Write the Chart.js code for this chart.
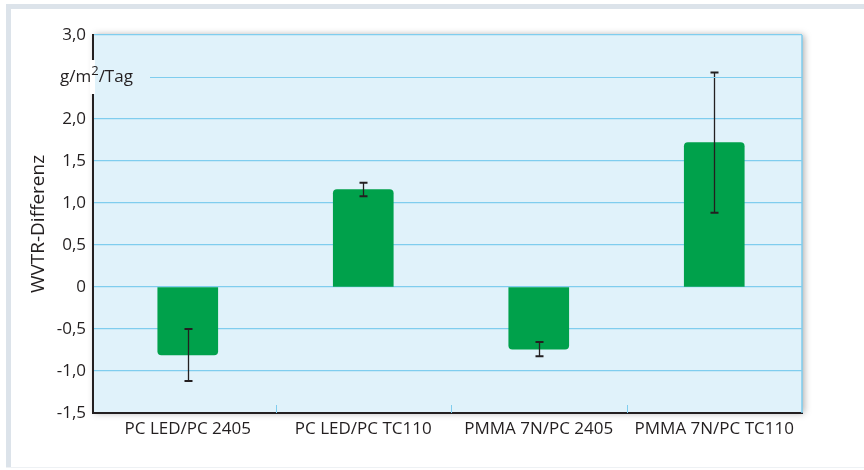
<!DOCTYPE html>
<html>
<head>
<meta charset="utf-8">
<script src="https://cdn.jsdelivr.net/npm/chart.js@4"></script>
<style>
  html, body { margin: 0; padding: 0; background: #fff; }
  #wrap { width: 864px; height: 470px; }
</style>
</head>
<body>
<div id="wrap"><canvas id="bar"></canvas></div>
<script>
const categories = ["PC LED/PC 2405", "PC LED/PC TC110", "PMMA 7N/PC 2405", "PMMA 7N/PC TC110"];
const wvtrDiff = [-0.81, 1.16, -0.74, 1.72];
const wvtrErr = [0.31, 0.08, 0.085, 0.835];
const yTickLabels = ["-1,5", "-1,0", "-0,5", "0", "0,5", "1,0", "1,5", "2,0", "", "3,0"];
const unitValue = 2.5; // the 2,5 tick is replaced by the unit label

const FONT = "'Open Sans', sans-serif";
const INK = "#231f20";
const GRID = "#7fcdee";

const decor = {
  id: "decor",
  beforeDraw(chart) {
    const c = chart.ctx, a = chart.chartArea;
    c.save();
    // page frame
    c.fillStyle = "#dce3ea";
    c.fillRect(6, 4, chart.width - 6, 5);
    c.fillRect(6, 4, 5, chart.height - 6);
    c.fillStyle = "#eef1f4";
    c.fillRect(6, chart.height - 3, chart.width - 6, 1);
    // plot background with shadow
    c.shadowColor = "rgba(0,0,0,0.35)";
    c.shadowBlur = 7;
    c.shadowOffsetX = 2;
    c.shadowOffsetY = 0;
    c.fillStyle = "#e0f2fa";
    c.fillRect(a.left, a.top, a.right - a.left, a.bottom - a.top);
    c.restore();
  },
  afterDraw(chart) {
    const c = chart.ctx, a = chart.chartArea;
    const x = chart.scales.x, y = chart.scales.y;
    c.save();
    // right border
    c.strokeStyle = GRID;
    c.lineWidth = 1.5;
    c.beginPath();
    c.moveTo(a.right, a.top);
    c.lineTo(a.right, a.bottom);
    c.stroke();
    // category separator ticks
    c.lineWidth = 1;
    for (let i = 0; i < categories.length - 1; i++) {
      const px = Math.round(x.getPixelForValue(i + 0.5)) + 0.5;
      c.beginPath();
      c.moveTo(px, a.bottom - 8);
      c.lineTo(px, a.bottom);
      c.stroke();
    }
    // unit label in place of 2,5
    const uy = y.getPixelForValue(unitValue);
    c.fillStyle = "#fff";
    c.fillRect(a.left - 3, uy - 17, 5, 34);
    c.strokeStyle = GRID;
    c.beginPath();
    c.moveTo(a.left + 57, Math.round(uy) + 0.5);
    c.lineTo(a.right, Math.round(uy) + 0.5);
    c.stroke();
    c.fillStyle = INK;
    c.textBaseline = "middle";
    c.font = "17px " + FONT;
    let tx = 60;
    c.fillText("g/m", tx, uy);
    tx += c.measureText("g/m").width;
    c.font = "13px " + FONT;
    c.fillText("2", tx, uy - 6);
    tx += c.measureText("2").width;
    c.font = "17px " + FONT;
    c.fillText("/Tag", tx, uy);
    c.restore();
  },
  afterDatasetsDraw(chart) {
    const c = chart.ctx, y = chart.scales.y;
    const meta = chart.getDatasetMeta(0);
    c.save();
    c.strokeStyle = INK;
    meta.data.forEach((bar, i) => {
      const hi = y.getPixelForValue(wvtrDiff[i] + wvtrErr[i]);
      const lo = y.getPixelForValue(wvtrDiff[i] - wvtrErr[i]);
      const bx = Math.round(bar.x) + 0.5;
      c.lineWidth = 1.3;
      c.beginPath();
      c.moveTo(bx, hi);
      c.lineTo(bx, lo);
      c.stroke();
      c.lineWidth = 2;
      c.beginPath();
      c.moveTo(bx - 4, hi);
      c.lineTo(bx + 4, hi);
      c.moveTo(bx - 4, lo);
      c.lineTo(bx + 4, lo);
      c.stroke();
    });
    c.restore();
  }
};

new Chart(document.getElementById("bar"), {
  type: "bar",
  data: {
    datasets: [{
      data: wvtrDiff.map((v, i) => ({ x: i, y: v })),
      backgroundColor: "#00a14b",
      borderWidth: 0,
      borderRadius: 4,
      barThickness: 60
    }]
  },
  options: {
    responsive: true,
    maintainAspectRatio: false,
    animation: false,
    layout: { padding: { top: 35, right: 62, left: 0, bottom: 0 } },
    plugins: { legend: { display: false }, tooltip: { enabled: false } },
    scales: {
      x: {
        type: "linear",
        offset: false,
        bounds: "ticks",
        min: -0.54,
        max: 3.5,
        afterBuildTicks(scale) {
          scale.ticks = categories.map((c, i) => ({ value: i }));
        },
        afterFit(scale) { scale.height = 57; },
        ticks: {
          callback: (v) => categories[v],
          color: INK,
          font: { family: FONT, size: 17 },
          padding: 6,
          maxRotation: 0,
          autoSkip: false
        },
        grid: { display: false, drawTicks: false, offset: false },
        border: { color: INK, width: 2 }
      },
      y: {
        min: -1.5,
        max: 3,
        afterBuildTicks(scale) {
          scale.ticks = yTickLabels.map((t, i) => ({ value: -1.5 + i * 0.5 }));
        },
        afterFit(scale) { scale.width = 93; },
        ticks: {
          callback: (v, i) => yTickLabels[i],
          color: INK,
          font: { family: FONT, size: 17 },
          padding: 7
        },
        grid: {
          drawTicks: false,
          lineWidth: 1.2,
          color: (ctx) => (ctx.tick && (ctx.tick.value === unitValue || ctx.tick.value === -1.5)) ? "rgba(0,0,0,0)" : GRID
        },
        border: { color: INK, width: 2 },
        title: {
          display: true,
          text: "WVTR-Differenz",
          color: INK,
          font: { family: FONT, size: 19 },
          padding: 27
        }
      }
    }
  },
  plugins: [decor]
});
</script>
</body>
</html>
